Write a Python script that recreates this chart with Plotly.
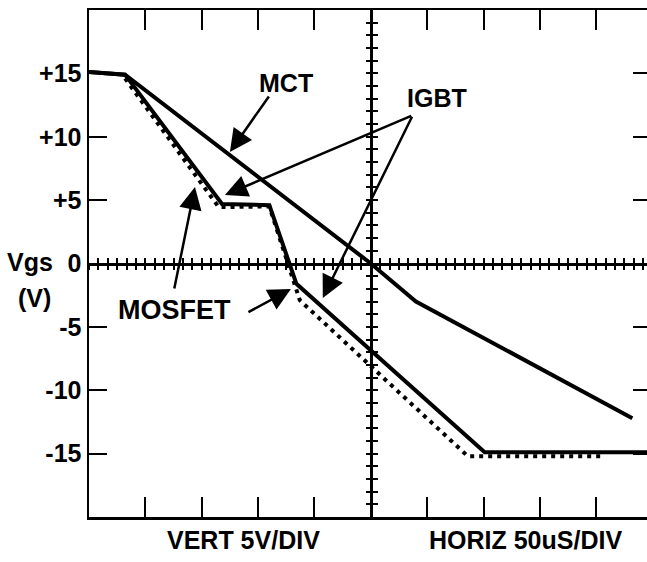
import plotly.graph_objects as go

# ---- data (time in microseconds, Vgs in volts) ----
mct_t = [0, 32, 250, 290, 482]
mct_v = [15.1, 14.9, 0.0, -3.0, -12.2]

igbt_t = [0, 32, 118, 160, 184, 351, 495]
igbt_v = [15.1, 14.9, 4.7, 4.6, -1.6, -14.9, -14.9]

mosfet_t = [32, 115, 160, 187, 336, 455]
mosfet_v = [14.6, 4.45, 4.5, -2.9, -15.2, -15.2]

y_ticks = [15, 10, 5, 0, -5, -10, -15]
y_tick_text = ["+15", "+10", "+5", "0", "-5", "-10", "-15"]

X_MAX = 495          # visible end of the screen (µs)
X_DIV = 50           # 50 µs / div
Y_DIV = 5            # 5 V / div
CENTER_T = 250
H_MINOR = 6          # minor marks per horizontal division on the crosshair
V_MINOR = 5          # minor marks per vertical division on the crosshair

FONT = "Liberation Sans, Arial, Helvetica, sans-serif"

fig = go.Figure()
fig.add_trace(go.Scatter(x=mct_t, y=mct_v, mode="lines",
                         line=dict(color="black", width=4), name="MCT"))
fig.add_trace(go.Scatter(x=igbt_t, y=igbt_v, mode="lines",
                         line=dict(color="black", width=4), name="IGBT"))
fig.add_trace(go.Scatter(x=mosfet_t, y=mosfet_v, mode="lines",
                         line=dict(color="black", width=4, dash="4px,5px"), name="MOSFET"))

major_x = [X_DIV * k for k in range(1, 10)]

common_off = dict(showgrid=False, zeroline=False, showticklabels=False)

fig.update_layout(
    width=647, height=562,
    margin=dict(l=89, r=0, t=10, b=45),
    plot_bgcolor="white", paper_bgcolor="white",
    showlegend=False, hovermode=False,
    font=dict(family=FONT, color="black"),
    xaxis=dict(range=[0, X_MAX], showline=True, linewidth=2.5, linecolor="black",
               mirror="ticks", ticks="inside", ticklen=20, tickwidth=2, tickcolor="black",
               tickvals=major_x, **common_off),
    yaxis=dict(range=[-20, 20], showline=True, linewidth=2.5, linecolor="black",
               ticks="inside", ticklen=18, tickwidth=2, tickcolor="black",
               tickvals=y_ticks, ticktext=["<b>%s</b>" % t for t in y_tick_text],
               showticklabels=True, tickfont=dict(size=25, family=FONT),
               showgrid=False, zeroline=False),
    # right-edge marks
    yaxis3=dict(range=[-20, 20], overlaying="y", side="right", anchor="x",
                showline=False, ticks="inside", ticklen=14, tickwidth=2, tickcolor="black",
                tickvals=y_ticks, **common_off),
    # horizontal crosshair (through 0 V)
    xaxis2=dict(range=[0, X_MAX], overlaying="x", anchor="free", position=0.5,
                showline=True, linewidth=3, linecolor="black",
                ticks="inside", ticklen=5, tickwidth=2, tickcolor="black",
                tick0=0, dtick=X_DIV / H_MINOR, **common_off),
    xaxis3=dict(range=[0, X_MAX], overlaying="x", anchor="free", position=0.5,
                showline=False,
                ticks="outside", ticklen=5, tickwidth=2, tickcolor="black",
                tick0=0, dtick=X_DIV / H_MINOR, **common_off),
    # vertical crosshair (through centre time)
    yaxis2=dict(range=[-20, 20], overlaying="y", anchor="free", position=CENTER_T / X_MAX,
                showline=True, linewidth=3, linecolor="black",
                ticks="inside", ticklen=5, tickwidth=2, tickcolor="black",
                tick0=0, dtick=Y_DIV / V_MINOR, **common_off),
    yaxis4=dict(range=[-20, 20], overlaying="y", anchor="free", position=CENTER_T / X_MAX,
                side="right", showline=False,
                ticks="inside", ticklen=5, tickwidth=2, tickcolor="black",
                tick0=0, dtick=Y_DIV / V_MINOR, **common_off),
)

# invisible helpers so the overlay axes are drawn
for xa, ya in [("x2", "y"), ("x3", "y"), ("x", "y2"), ("x", "y3"), ("x", "y4")]:
    fig.add_trace(go.Scatter(x=[None], y=[None], xaxis=xa, yaxis=ya,
                             mode="lines", hoverinfo="skip", showlegend=False))

def label(text, x, y, size=25, xref="x", yref="y"):
    fig.add_annotation(text="<b>%s</b>" % text, x=x, y=y, xref=xref, yref=yref,
                       showarrow=False, font=dict(size=size, family=FONT, color="black"),
                       xanchor="center", yanchor="middle")

def arrow(tail, tip):
    fig.add_annotation(text="", x=tip[0], y=tip[1], ax=tail[0], ay=tail[1],
                       xref="x", yref="y", axref="x", ayref="y",
                       showarrow=True, arrowhead=2, arrowsize=1.8, arrowwidth=2.5,
                       arrowcolor="black")

label("MCT", 174.6, 14.24, size=25)
label("IGBT", 308.5, 13.06, size=25)
label("MOSFET", 76.2, -3.67, size=27)

arrow((160.5, 13.3), (125.0, 8.8))
arrow((287.2, 11.7), (120.6, 5.4))
arrow((287.2, 11.7), (207.4, -2.72))
arrow((75.4, -2.09), (94.0, 6.04))
arrow((140.1, -3.9), (179.1, -2.01))

label("Vgs", -0.105, 0.503, xref="paper", yref="paper")
label("(V)", -0.098, 0.432, xref="paper", yref="paper")
label("VERT 5V/DIV", 0.276, -0.045, xref="paper", yref="paper")
label("HORIZ 50uS/DIV", 0.783, -0.045, xref="paper", yref="paper")

fig.write_html("out.html",
               config={"displayModeBar": False, "staticPlot": True},
               post_script="document.body.style.margin='0px';"
                           "document.body.style.overflow='hidden';")
